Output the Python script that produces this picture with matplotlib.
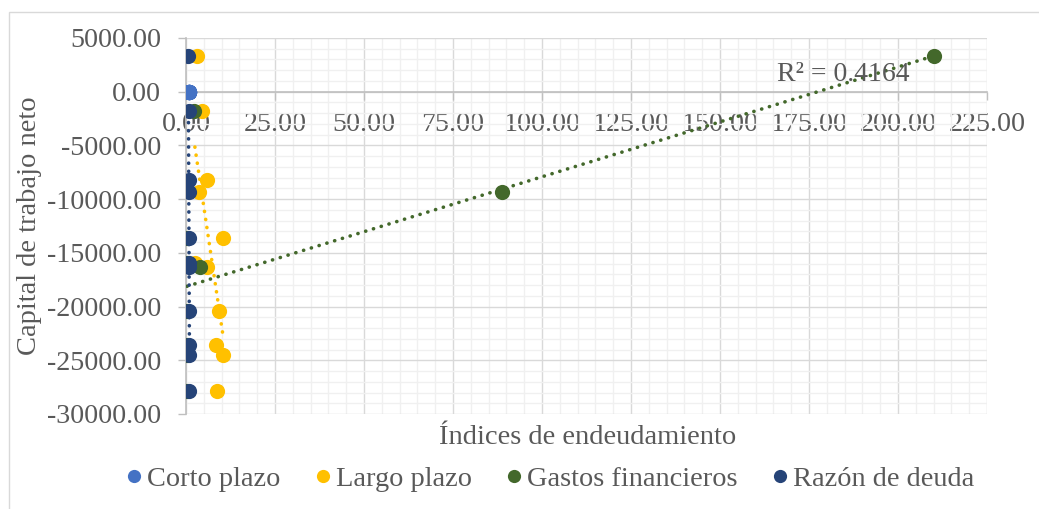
import numpy as np
import matplotlib
matplotlib.use("Agg")
import matplotlib.pyplot as plt
from matplotlib.lines import Line2D
from matplotlib.patches import Rectangle
from matplotlib.ticker import MultipleLocator, FuncFormatter

nan = np.nan

# Capital de trabajo neto (eje Y) para cada periodo
capital_trabajo = [3290, -1770, -8190, -9375, -13620, -15960, -16280,
                   -20390, -23550, -24490, -27900]

# Índices de endeudamiento (eje X); nan = celda vacía
corto_plazo_x = [0.88, 0.90, 0.92, 0.89, 0.91, 0.90, 0.93, 0.87, 0.90, 0.92, 0.89]
corto_plazo_y = [0, 0, 0, 0, 0, 0, 0, 0, 0, 0, 0]
largo_plazo = [3.2, 4.5, 5.9, 3.6, 10.5, 2.5, 6.0, 9.4, 8.3, 10.5, 8.8]
gastos_financieros = [210.1, 2.2, nan, 88.7, 0.3, 0.3, 4.0, 0.3, 0.3, 0.3, 0.3]
razon_deuda = [0.70, 0.78, 0.80, 0.90, 0.85, 0.78, 0.95, 0.82, 0.92, 0.95, 0.84]

r2_label = "R² = 0.4164"

COL_CORTO = "#4472C4"
COL_LARGO = "#FFC000"
COL_GASTOS = "#43682B"
COL_RAZON = "#264478"
TXT = "#595959"

plt.rcParams["font.family"] = ["Liberation Serif", "DejaVu Serif"]

W, H = 1039, 509
fig = plt.figure(figsize=(W / 100, H / 100), dpi=100)
fig.patch.set_facecolor("white")

# chart area border
fig.add_artist(Rectangle((9 / W, -0.1), 1.2, 1 - 12 / H + 0.1,
                         transform=fig.transFigure, fill=False,
                         edgecolor="#d9d9d9", linewidth=1.0, zorder=0))

ax = fig.add_axes([186 / W, 1 - 414 / H, (987 - 186) / W, (414 - 38) / H])
ax.set_xlim(0, 225)
ax.set_ylim(-30000, 5000)

ax.xaxis.set_major_locator(MultipleLocator(25))
ax.xaxis.set_minor_locator(MultipleLocator(5))
ax.yaxis.set_major_locator(MultipleLocator(5000))
ax.yaxis.set_minor_locator(MultipleLocator(1000))
fmt = FuncFormatter(lambda v, p: f"{v:.2f}")
ax.xaxis.set_major_formatter(fmt)
ax.yaxis.set_major_formatter(fmt)

ax.grid(which="major", color="#d9d9d9", linewidth=1.0, zorder=0)
ax.grid(which="minor", color="#f0f0f0", linewidth=1.0, zorder=0)
ax.set_axisbelow(True)

for s in ("top", "right"):
    ax.spines[s].set_visible(False)
ax.spines["bottom"].set_position(("data", 0))
ax.spines["left"].set_position(("data", 0))
for s in ("bottom", "left"):
    ax.spines[s].set_color("#bfbfbf")
    ax.spines[s].set_linewidth(1.2)

ax.tick_params(axis="both", which="major", colors="#bfbfbf", labelcolor=TXT,
               labelsize=20.2, length=5.5, width=1.0, direction="out")
ax.tick_params(axis="x", which="major", pad=9)
ax.tick_params(axis="y", which="major", pad=12.5)
ax.tick_params(which="minor", length=0)

ms = 120
ax.scatter(corto_plazo_x, corto_plazo_y, s=ms, color=COL_CORTO, zorder=3, linewidths=0)
ax.scatter(largo_plazo, capital_trabajo, s=ms, color=COL_LARGO, zorder=3, linewidths=0)
ax.scatter(gastos_financieros, capital_trabajo, s=ms, color=COL_GASTOS, zorder=3, linewidths=0)
ax.scatter(razon_deuda, capital_trabajo, s=ms, color=COL_RAZON, zorder=3, linewidths=0)


def trend(xs, ys, color):
    xs = np.asarray(xs, float)
    ys = np.asarray(ys, float)
    ok = ~np.isnan(xs) & ~np.isnan(ys)
    xs, ys = xs[ok], ys[ok]
    b, a = np.polyfit(xs, ys, 1)
    xx = np.array([xs.min(), xs.max()])
    ax.plot(xx, a + b * xx, color=color, linewidth=2.6,
            linestyle=(0, (0.05, 2.2)), dash_capstyle="round", zorder=4)


trend(largo_plazo, capital_trabajo, COL_LARGO)
trend(gastos_financieros, capital_trabajo, COL_GASTOS)
trend(razon_deuda, capital_trabajo, COL_RAZON)

ax.text(166, 1580, r2_label, fontsize=20, color=TXT, ha="left", va="center", zorder=5)

fig.text(30 / W, 1 - 226 / H, "Capital de trabajo neto", rotation=90,
         fontsize=20.5, color=TXT, ha="center", va="center")
fig.text(588 / W, 1 - 438 / H, "Índices de endeudamiento",
         fontsize=20.5, color=TXT, ha="center", va="center")

handles = [Line2D([], [], linestyle="none", marker="o", markersize=9.5,
                  markerfacecolor=c, markeredgewidth=0)
           for c in (COL_CORTO, COL_LARGO, COL_GASTOS, COL_RAZON)]
labels = ["Corto plazo", "Largo plazo", "Gastos financieros", "Razón de deuda"]
leg = fig.legend(handles, labels, loc="center", bbox_to_anchor=(550 / W, 1 - 479 / H),
                 ncol=4, frameon=False, fontsize=20.4, handlelength=0.6,
                 handletextpad=0.15, columnspacing=1.2, borderpad=0)
for t in leg.get_texts():
    t.set_color(TXT)

fig.savefig("out.png", dpi=100)
